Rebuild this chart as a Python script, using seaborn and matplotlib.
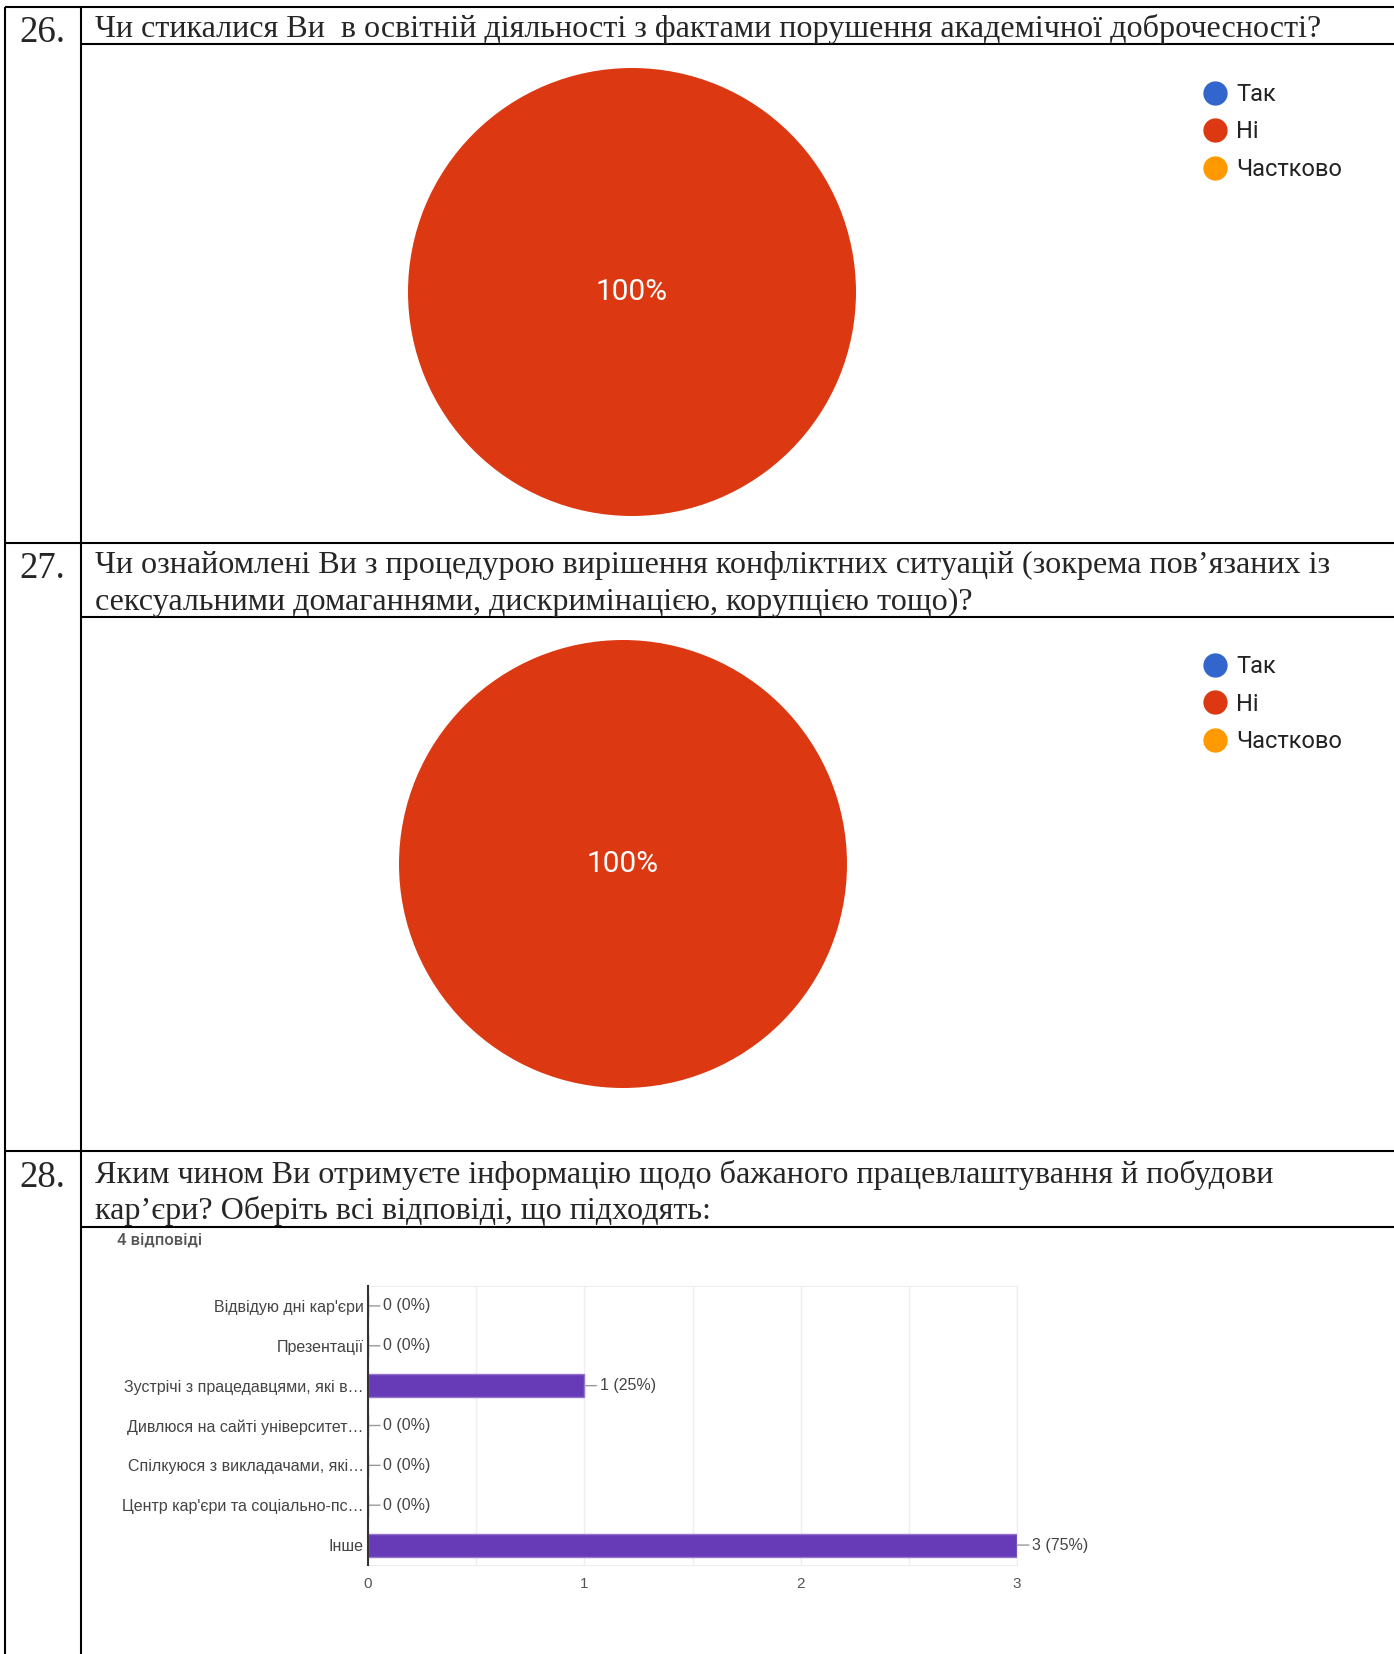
import matplotlib
matplotlib.use("Agg")
import matplotlib.pyplot as plt
from matplotlib.lines import Line2D
from matplotlib.ticker import MultipleLocator
import seaborn as sns

sns.set_style("white")
plt.rcParams['font.family'] = ['Liberation Sans', 'DejaVu Sans']

W, H = 1394, 1654

# --- data ---
question_nums = ['26.', '27.', '28.']
q26_text = ['Чи стикалися Ви  в освітній діяльності з фактами порушення академічної доброчесності?']
q27_text = ['Чи ознайомлені Ви з процедурою вирішення конфліктних ситуацій (зокрема пов’язаних із',
            'сексуальними домаганнями, дискримінацією, корупцією тощо)?']
q28_text = ['Яким чином Ви отримуєте інформацію щодо бажаного працевлаштування й побудови',
            'кар’єри? Оберіть всі відповіді, що підходять:']

pie_labels = ['Так', 'Ні', 'Частково']
pie_colors = ['#3366CC', '#DC3912', '#FF9900']
q26_values = [0, 4, 0]
q27_values = [0, 4, 0]

bar_options = ['Відвідую дні кар\'єри', 'Презентації', 'Зустрічі з працедавцями, які в…',
               'Дивлюся на сайті університет…', 'Спілкуюся з викладачами, які…',
               'Центр кар\'єри та соціально-пс…', 'Інше']
bar_counts = [0, 0, 1, 0, 0, 0, 3]
bar_total = 4
bar_ticks = [0, 1, 2, 3]

fig = plt.figure(figsize=(W / 100, H / 100), dpi=100)

# background axes in pixel coords for the table
bg = fig.add_axes([0, 0, 1, 1])
bg.set_xlim(0, W)
bg.set_ylim(H, 0)
bg.axis('off')

lw = 1.5
bg.vlines([5, 81], 7, H, color='black', lw=lw)
bg.hlines([7, 543, 1151], 5, W, color='black', lw=lw)
bg.hlines([44, 617, 1227], 81, W, color='black', lw=lw)

serif = ['Liberation Serif', 'DejaVu Serif']
num_y = [42, 578, 1187]
for n, y in zip(question_nums, num_y):
    bg.text(19, y, n, fontsize=26.5, family=serif, va='baseline', ha='left')

def draw_question(lines, baselines):
    for line, y in zip(lines, baselines):
        bg.text(95, y, line, fontsize=23.1, family=serif, va='baseline', ha='left')

draw_question(q26_text, [37])
draw_question(q27_text, [573, 610])
draw_question(q28_text, [1183, 1219])


# --- pies ---
def draw_pie(values, cx, cy, r, legend_y):
    ax = fig.add_axes([(cx - r) / W, 1 - (cy + r) / H, 2 * r / W, 2 * r / H])
    ax.pie(values, colors=pie_colors, startangle=90, counterclock=False,
           wedgeprops=dict(linewidth=0),
           autopct=lambda p: f'{p:.0f}%' if p > 0 else '', pctdistance=0,
           textprops=dict(color='white', fontsize=21.5, family=['Roboto', 'DejaVu Sans']))
    ax.set_xlim(-1, 1)
    ax.set_ylim(-1, 1)
    handles = [Line2D([], [], marker='o', linestyle='none', markersize=16.5,
                      markerfacecolor=c, markeredgecolor=c) for c in pie_colors]
    leg = ax.legend(handles, pie_labels, loc='center left',
                    bbox_to_anchor=(1203 / W, 1 - legend_y / H), bbox_transform=fig.transFigure,
                    frameon=False, borderpad=0, borderaxespad=0, handlelength=1.0,
                    handletextpad=0.4, labelspacing=0.61,
                    prop=dict(family=['Roboto', 'DejaVu Sans'], size=17))
    for t in leg.get_texts():
        t.set_color('#222222')


draw_pie(q26_values, 632, 292, 224, 132)
draw_pie(q27_values, 623, 864, 224, 704)

# --- bar chart ---
bx0, bx1, by0, by1 = 368, 1017, 1286, 1565
ax = fig.add_axes([bx0 / W, 1 - by1 / H, (bx1 - bx0) / W, (by1 - by0) / H])
sns.barplot(x=bar_counts, y=bar_options, orient='h', color='#673AB7', width=0.58,
            edgecolor='#9575CD', linewidth=1, saturation=1, ax=ax)
ax.set_xlim(0, 3)
ax.set_xticks(bar_ticks)
ax.xaxis.set_minor_locator(MultipleLocator(0.5))
ax.grid(axis='x', which='both', color='#EEEEEE', lw=1)
ax.set_axisbelow(True)
for s in ['top', 'bottom', 'right']:
    ax.spines[s].set_color('#EEEEEE')
ax.spines['left'].set_color('#333333')
ax.spines['left'].set_linewidth(1.5)
ax.spines['left'].set_zorder(5)
ax.tick_params(axis='y', length=0, pad=3, labelsize=11.5, labelcolor='#444444')
ax.tick_params(axis='x', which='both', length=0, pad=9, labelsize=11, labelcolor='#555555')
ax.set_xlabel('')
ax.set_ylabel('')

for i, v in enumerate(bar_counts):
    ax.annotate(f'{v} ({v / bar_total * 100:.0f}%)', xy=(v, i), xytext=(11, 0),
                textcoords='offset points', va='center', ha='left', fontsize=11.5,
                color='#444444',
                arrowprops=dict(arrowstyle='-', color='#999999', lw=1, shrinkA=0, shrinkB=0))

bg.text(117, 1240, f'{bar_total} відповіді', fontsize=12, color='#555555',
        family=['Roboto', 'DejaVu Sans'], fontweight='medium', va='center', ha='left')

fig.savefig('out.png', dpi=100)
